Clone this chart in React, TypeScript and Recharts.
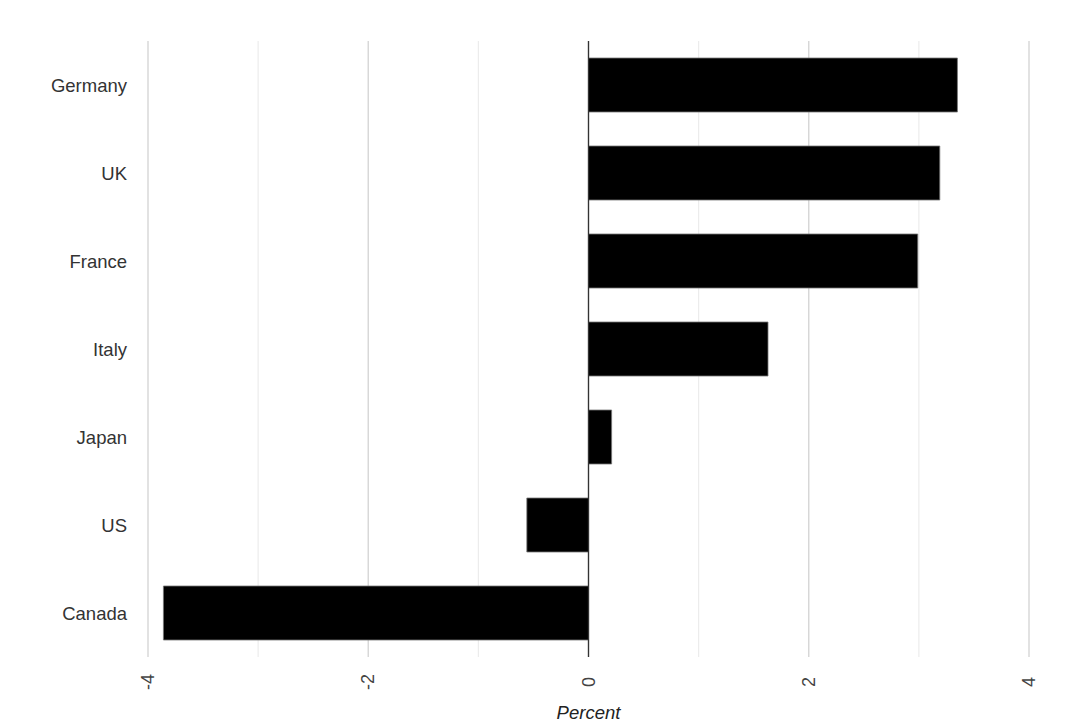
import { BarChart, Bar, XAxis, YAxis, ReferenceLine, CartesianGrid } from 'recharts'

const countries = ['Germany', 'UK', 'France', 'Italy', 'Japan', 'US', 'Canada']
const percent = [3.35, 3.19, 2.99, 1.63, 0.21, -0.56, -3.86]
const majorTicks = [-4, -2, 0, 2, 4]
const minorTicks = [-3, -1, 1, 3]

const data = countries.map((name, i) => ({ name, value: percent[i] }))

const font = '"Liberation Sans", Arial, sans-serif'

function RotatedTick(props: any) {
    const { x, payload } = props
    return (
        <text
            x={x}
            y={682}
            transform={`rotate(-90, ${x}, 682)`}
            textAnchor="middle"
            dominantBaseline="central"
            fill="#444"
            fontSize={18}
            fontFamily={font}
        >
            {payload.value}
        </text>
    )
}

export default function App() {
    return (
        <div style={{ position: 'absolute', left: 0, top: 0, background: '#fff' }}>
            <BarChart
                width={1080}
                height={728}
                data={data}
                layout="vertical"
                margin={{ top: 41, right: 51, bottom: 0, left: 0 }}
                barSize={54}
            >
                <CartesianGrid horizontal={false} verticalValues={minorTicks} stroke="#ececec" strokeWidth={1.2} />
                <CartesianGrid horizontal={false} verticalValues={majorTicks} stroke="#d6d6d6" strokeWidth={1.4} />
                <XAxis
                    type="number"
                    domain={[-4, 4]}
                    ticks={majorTicks}
                    axisLine={false}
                    tickLine={false}
                    height={71}
                    tick={<RotatedTick />}
                    label={{
                        value: 'Percent',
                        position: 'insideBottom',
                        offset: 9,
                        fill: '#222',
                        fontSize: 18.5,
                        fontStyle: 'italic',
                        fontFamily: font,
                    }}
                />
                <YAxis
                    type="category"
                    dataKey="name"
                    width={148}
                    axisLine={false}
                    tickLine={false}
                    tickMargin={15}
                    tick={{ fill: '#333', fontSize: 18.5, fontFamily: font }}
                />
                <Bar dataKey="value" fill="#000" stroke="#777" strokeWidth={0.8} isAnimationActive={false} />
                <ReferenceLine x={0} stroke="#333" strokeWidth={1.3} />
            </BarChart>
        </div>
    )
}
